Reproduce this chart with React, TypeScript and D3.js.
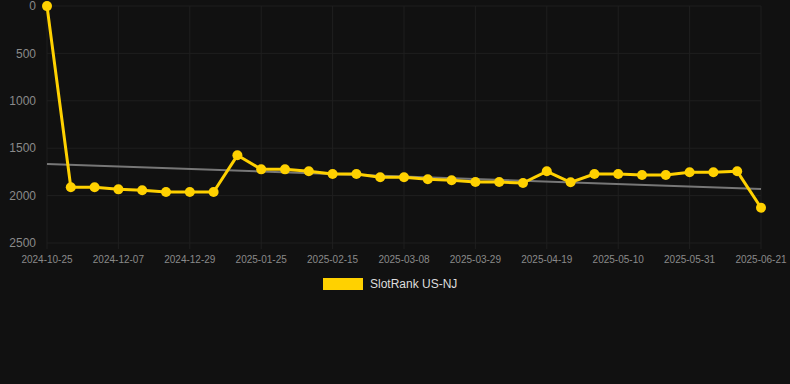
import React from "react";
import * as d3 from "d3";

const dates: string[] = [
  "2024-10-25", "2024-11-09", "2024-11-23", "2024-12-07", "2024-12-14", "2024-12-21",
  "2024-12-29", "2025-01-11", "2025-01-18", "2025-01-25", "2025-02-01", "2025-02-08",
  "2025-02-15", "2025-02-22", "2025-03-01", "2025-03-08", "2025-03-15", "2025-03-22",
  "2025-03-29", "2025-04-05", "2025-04-12", "2025-04-19", "2025-04-26", "2025-05-03",
  "2025-05-10", "2025-05-17", "2025-05-24", "2025-05-31", "2025-06-07", "2025-06-14",
  "2025-06-21",
];
const ranks: number[] = [
  1, 1912, 1912, 1934, 1944, 1962, 1962, 1962, 1575, 1723, 1723, 1744, 1772, 1772, 1807,
  1807, 1828, 1839, 1857, 1857, 1867, 1744, 1860, 1772, 1772, 1783, 1783, 1754, 1754, 1744,
  2128,
];
const trendValues: number[] = [1667, 1930];
const yTicks: number[] = [0, 500, 1000, 1500, 2000, 2500];
const seriesName = "SlotRank US-NJ";

const W = 790;
const H = 384;
const FONT = "'Liberation Sans', Arial, Helvetica, sans-serif";

export default function App() {
  const x = d3.scalePoint<string>().domain(dates).range([47, 761]);
  const y = d3.scaleLinear().domain([0, 2500]).range([6, 243]);
  const xTickLabels = dates.filter((_, i) => i % 3 === 0);
  const line = d3
    .line<number>()
    .x((_, i) => x(dates[i]) as number)
    .y((d) => y(d));
  const first = x(dates[0]) as number;
  const last = x(dates[dates.length - 1]) as number;

  return (
    <svg
      width={W}
      height={H}
      style={{ position: "absolute", left: 0, top: 0, background: "#111111" }}
    >
      <rect x={0} y={0} width={W} height={H} fill="#111111" />
      <g>
        {yTicks.map((t) => (
          <line key={"gy" + t} x1={first} x2={last} y1={y(t)} y2={y(t)} stroke="#1f1f1f" strokeWidth={1} />
        ))}
        {xTickLabels.map((d) => (
          <line key={"gx" + d} x1={x(d)} x2={x(d)} y1={y(0)} y2={y(2500) + 6} stroke="#1f1f1f" strokeWidth={1} />
        ))}
      </g>
      <g fontFamily={FONT}>
        {yTicks.map((t) => (
          <text key={"ty" + t} x={36} y={y(t)} dy="0.35em" textAnchor="end" fontSize={12} fill="#8a8a8a">
            {t}
          </text>
        ))}
        {xTickLabels.map((d) => (
          <text key={"tx" + d} x={x(d)} y={259} dy="0.35em" textAnchor="middle" fontSize={10} fill="#8a8a8a">
            {d}
          </text>
        ))}
      </g>
      <line
        x1={first}
        x2={last}
        y1={y(trendValues[0])}
        y2={y(trendValues[1])}
        stroke="#777777"
        strokeWidth={2}
      />
      <path d={line(ranks) || ""} fill="none" stroke="#FFD100" strokeWidth={3} strokeLinejoin="round" />
      {ranks.map((v, i) => (
        <circle key={"p" + i} cx={x(dates[i])} cy={y(v)} r={5} fill="#FFD100" />
      ))}
      <g fontFamily={FONT}>
        <rect x={323} y={278} width={40} height={12} fill="#FFD100" />
        <text x={370} y={284} dy="0.35em" fontSize={12} fill="#dddddd">
          {seriesName}
        </text>
      </g>
    </svg>
  );
}
